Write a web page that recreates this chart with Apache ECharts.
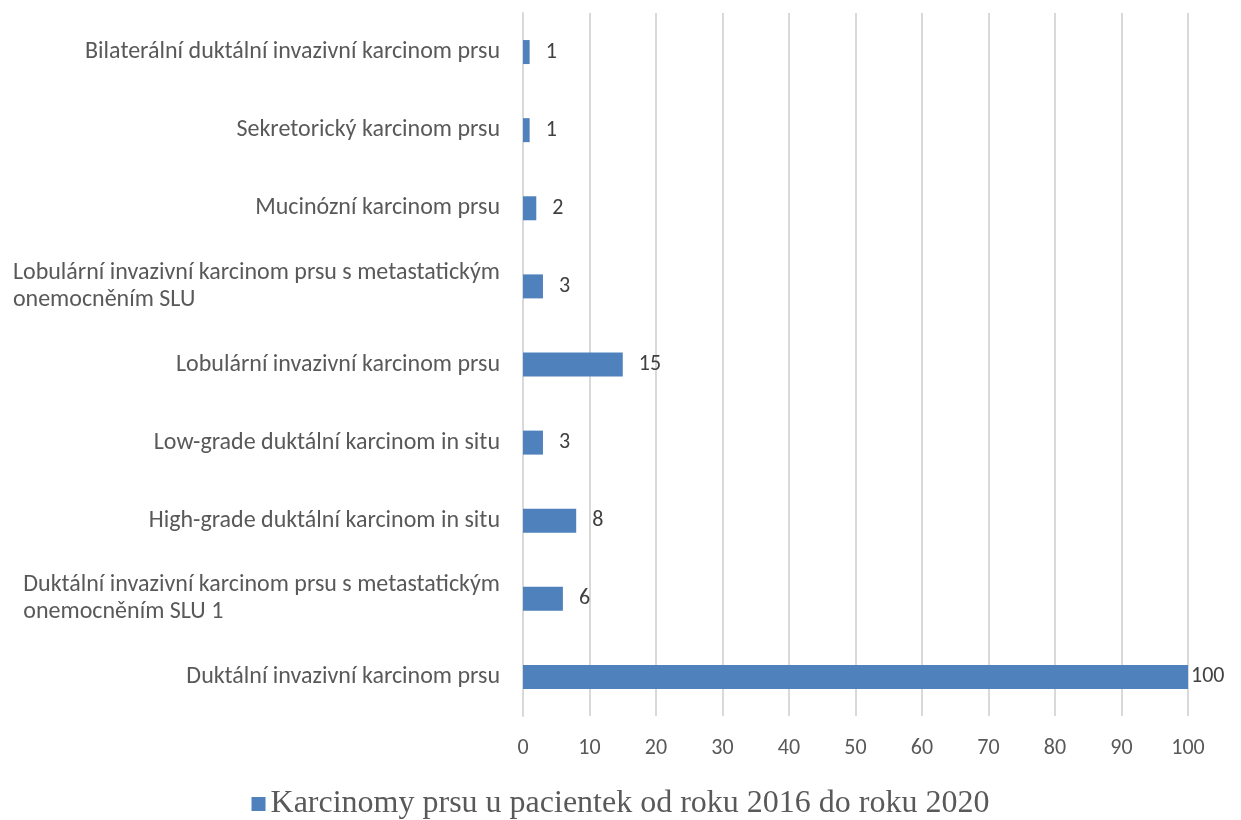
<!DOCTYPE html>
<html>
<head>
<meta charset="utf-8">
<style>
  html, body { margin: 0; padding: 0; background: #ffffff; }
  #chart { width: 1241px; height: 820px; }
</style>
<script src="https://cdn.jsdelivr.net/npm/echarts@6/dist/echarts.min.js"></script>
</head>
<body>
<div id="chart"></div>
<script>
// Breast carcinoma types, listed top to bottom
const categories = [
  'Bilaterální duktální invazivní karcinom prsu',
  'Sekretorický karcinom prsu',
  'Mucinózní karcinom prsu',
  'Lobulární invazivní karcinom prsu s metastatickým onemocněním SLU',
  'Lobulární invazivní karcinom prsu',
  'Low-grade duktální karcinom in situ',
  'High-grade duktální karcinom in situ',
  'Duktální invazivní karcinom prsu s metastatickým onemocněním SLU 1',
  'Duktální invazivní karcinom prsu'
];
const counts = [1, 1, 2, 3, 15, 3, 8, 6, 100];
const seriesName = 'Karcinomy prsu u pacientek od roku 2016 do roku 2020';
const xTicks = { min: 0, max: 100, step: 10 };

const BLUE = '#4f81bd';
const SANS = 'Carlito, Lato, "Open Sans", sans-serif';

const chart = echarts.init(document.getElementById('chart'));

const maxCount = Math.max(...counts);

chart.setOption({
  animation: false,
  grid: { left: 523, right: 53, top: 13, bottom: 104, containLabel: false },
  legend: {
    top: 783,
    left: 'center',
    icon: 'rect',
    itemWidth: 14,
    itemHeight: 14,
    itemGap: 10,
    textStyle: { fontFamily: '"Liberation Serif", "Times New Roman", serif', fontSize: 32, color: '#595959' },
    data: [seriesName]
  },
  xAxis: {
    type: 'value',
    min: xTicks.min,
    max: xTicks.max,
    interval: xTicks.step,
    axisLine: { show: false },
    axisTick: { show: false },
    splitLine: { show: true, lineStyle: { color: '#d9d9d9', width: 2 } },
    axisLabel: { color: '#595959', fontFamily: SANS, fontSize: 22, margin: 21 }
  },
  yAxis: {
    type: 'category',
    inverse: true,
    data: categories,
    axisLine: { show: true, lineStyle: { color: '#d9d9d9', width: 2 } },
    axisTick: { show: false },
    axisLabel: {
      margin: 23,
      formatter: function (v) {
        return v.replace(' onemocněním', '\nonemocněním')
          .split('\n').map(s => '{t|' + s + '}').join('\n');
      },
      rich: {
        t: { color: '#595959', fontFamily: SANS, fontSize: 24, lineHeight: 27, align: 'left' }
      }
    }
  },
  series: [{
    type: 'bar',
    name: seriesName,
    barWidth: 24,
    itemStyle: { color: BLUE },
    label: {
      show: true,
      position: 'right',
      distance: 16,
      color: '#404040',
      fontFamily: SANS,
      fontSize: 22
    },
    data: counts.map(v => v === maxCount ? { value: v, label: { distance: 3 } } : v)
  }]
});
</script>
</body>
</html>
